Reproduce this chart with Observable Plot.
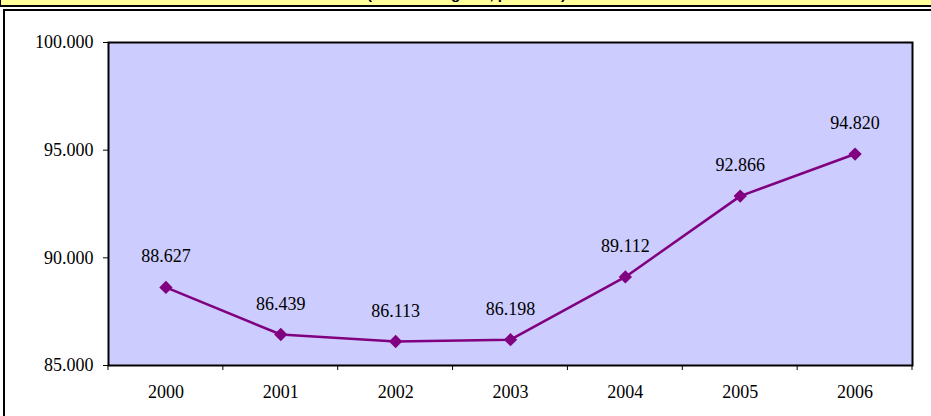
<!DOCTYPE html>
<html>
<head>
<meta charset="utf-8">
<script src="https://cdn.jsdelivr.net/npm/d3@7"></script>
<script src="https://cdn.jsdelivr.net/npm/@observablehq/plot@0.6"></script>
<style>
  html, body { margin: 0; padding: 0; background: white; overflow: hidden; }
  #wrap { position: relative; width: 931px; height: 416px; overflow: hidden; }
  #banner { position: absolute; left: 0; top: -20px; width: 940px; height: 25px; background: #FFFF99; border-left: 1px solid black; border-bottom: 2px solid black; box-sizing: content-box; }
  #banner span { position: absolute; left: 0; width: 931px; text-align: center; bottom: 4px; font: bold 15px "Liberation Sans", Arial, sans-serif; color: black; line-height: 15px; }
  #box { position: absolute; left: 3px; top: 9px; width: 960px; height: 460px; border: 2px solid black; background: white; }
  #chart { position: absolute; left: 0; top: 0; }
</style>
</head>
<body>
<div id="wrap">
  <div id="box"></div>
  <div id="banner"><span>(valori in migliaia, per anno)</span></div>
  <div id="chart"></div>
</div>
<script>
const years = ["2000", "2001", "2002", "2003", "2004", "2005", "2006"];
const values = [88627, 86439, 86113, 86198, 89112, 92866, 94820];
const yTicks = [85000, 90000, 95000, 100000];

const it = d3.formatLocale({decimal: ",", thousands: ".", grouping: [3], currency: ["", " €"]});
const fmt = it.format(",");

const data = years.map((year, i) => ({i, year, value: values[i]}));
const bounds = d3.range(years.length + 1).map(k => k - 0.5);

const purple = "#800080";
const serif = "Liberation Serif, Tinos, Times New Roman, serif";
const fs = 18;

const chart = Plot.plot({
  width: 931,
  height: 416,
  marginLeft: 108,
  marginRight: 19,
  marginTop: 42,
  marginBottom: 51,
  style: "background: transparent; font-family: 'Liberation Serif', serif; font-size: 18px;",
  x: {type: "linear", domain: [-0.5, years.length - 0.5]},
  y: {domain: [85000, 100000]},
  marks: [
    Plot.frame({fill: "#CCCCFF"}),
    Plot.axisY({ticks: yTicks, tickFormat: fmt, tickSize: 5, tickPadding: 10, label: null, fontSize: fs, fontFamily: serif}),
    Plot.axisX({ticks: d3.range(years.length), tickFormat: i => years[i], tickSize: 0, tickPadding: 20, label: null, fontSize: fs, fontFamily: serif}),
    Plot.frame({stroke: "black", strokeWidth: 2}),
    Plot.line(data, {x: "i", y: "value", stroke: purple, strokeWidth: 2.5}),
    Plot.dot(data, {x: "i", y: "value", symbol: "diamond2", r: 6, fill: purple, stroke: "none"}),
    Plot.text(data, {x: "i", y: "value", text: d => fmt(d.value), dy: -25, lineAnchor: "bottom", textAnchor: "middle", fontSize: fs, fontFamily: serif, fill: "black"})
  ]
});

// short tick marks below the x axis at category boundaries (positions from the Plot scales)
const xs = chart.scale("x"), ys = chart.scale("y");
d3.select(chart).append("g").attr("stroke", "black").attr("stroke-width", 1)
  .selectAll("line").data(bounds).join("line")
  .attr("x1", d => xs.apply(d)).attr("x2", d => xs.apply(d))
  .attr("y1", ys.apply(85000)).attr("y2", ys.apply(85000) + 5);

document.getElementById("chart").appendChild(chart);
</script>
</body>
</html>
